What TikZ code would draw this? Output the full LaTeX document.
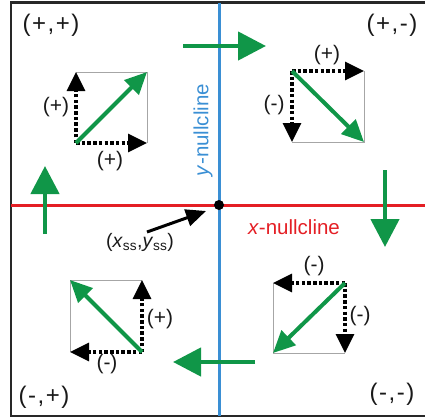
\documentclass[tikz,border=0pt]{standalone}
\usepackage{fontspec}
\setmainfont{Liberation Sans}
\usetikzlibrary{arrows.meta}
\definecolor{grn}{RGB}{16,150,72}
\definecolor{blu}{RGB}{58,143,212}
\definecolor{rd}{RGB}{228,30,36}
\definecolor{frm}{RGB}{40,40,40}
\newcommand{\gapk}{\kern1.5pt}
\tikzset{
  bigarrow/.style={grn, line width=4.5pt, -{Triangle[length=28pt,width=28pt]}},
  diagarrow/.style={grn, line width=4pt, -{Triangle[length=22pt,width=20pt]}},
  dasharrow/.style={black, line width=3.2pt, dash pattern=on 3.5pt off 2.2pt, -{Triangle[length=19pt,width=18pt]}},
  sqedge/.style={black!35, line width=0.9pt},
  smalllbl/.style={font=\fontsize{21}{21}\selectfont, inner sep=0pt, text=black!90},
  cornerlbl/.style={font=\fontsize{24}{24}\selectfont, inner sep=0pt, text=black!90},
  nclbl/.style={font=\fontsize{20.5}{20.5}\selectfont, inner sep=0pt}
}
\begin{document}
\begin{tikzpicture}[x=1pt,y=-1pt]
\useasboundingbox (0,0) rectangle (425,418);
% frame
\draw[frm, line width=2.5pt] (425,2.5) -- (11,2.5) -- (11,416) -- (425,416);
% nullclines
\coordinate (ytop) at (219,2.5);
\coordinate (ybot) at (219,416);
\coordinate (xl) at (11,205);
\coordinate (xr) at (425,205);
\draw[rd, line width=3pt] (xl) -- (xr);
\draw[blu, line width=3pt] (ytop) -- (ybot);
\node[circle, fill=black, inner sep=0pt, minimum size=10pt] (ss) at (219,205) {};
\node[nclbl, text=blu, rotate=90] (ylbl) at (203,130) {\textit{y}-nullcline};
\node[nclbl, text=rd] (xlbl) at (294,227) {\textit{x}-nullcline};
% steady state label
\node[font=\fontsize{19.5}{19.5}\selectfont, inner sep=0pt, text=black!90] (sslbl) at (140,242) {(\textit{x}\textsubscript{ss},\textit{y}\textsubscript{ss})};
\coordinate (ssa) at (147,232);
\coordinate (ssb) at (206,211);
\draw[black, line width=3pt, -{Triangle[length=20pt,width=17pt]}] (ssa) -- (ssb);
% corner labels
\node[cornerlbl] (pp) at (51,25) {(\gapk+\gapk,\gapk+\gapk)};
\node[cornerlbl] (pm) at (392,25) {(\gapk+\gapk,\gapk-\gapk)};
\node[cornerlbl] (mp) at (44,397) {(\gapk-\gapk,\gapk+\gapk)};
\node[cornerlbl] (mm) at (392,394) {(\gapk-\gapk,\gapk-\gapk)};
% big green flow arrows
\coordinate (t1) at (183,46); \coordinate (t2) at (266,46);
\draw[bigarrow] (t1) -- (t2);
\coordinate (r1) at (385,170); \coordinate (r2) at (385,247);
\draw[bigarrow] (r1) -- (r2);
\coordinate (b1) at (255,362); \coordinate (b2) at (173,362);
\draw[bigarrow] (b1) -- (b2);
\coordinate (l1) at (45,234); \coordinate (l2) at (45,166);
\draw[bigarrow] (l1) -- (l2);
% quadrant (+,+)
\coordinate (a1) at (76,143); \coordinate (a2) at (147,143);
\coordinate (a3) at (147,72); \coordinate (a4) at (76,72);
\draw[sqedge] (a4) -- (a3) -- (a2);
\draw[dasharrow] (a1) -- (a4);
\draw[dasharrow] (a1) -- (a2);
\draw[diagarrow] (a1) -- (a3);
\node[smalllbl] (a5) at (56,107) {(+)};
\node[smalllbl] (a6) at (110,161) {(+)};
% quadrant (+,-)
\coordinate (b1q) at (292,71); \coordinate (b2q) at (364,71);
\coordinate (b3q) at (364,142); \coordinate (b4q) at (292,142);
\draw[sqedge] (b2q) -- (b3q) -- (b4q);
\draw[dasharrow] (b1q) -- (b2q);
\draw[dasharrow] (b1q) -- (b4q);
\draw[diagarrow] (b1q) -- (b3q);
\node[smalllbl] (b5q) at (327,55) {(+)};
\node[smalllbl] (b6q) at (274,105) {(-)};
% quadrant (-,+)
\coordinate (c1) at (142,352); \coordinate (c2) at (70,352);
\coordinate (c3) at (70,280); \coordinate (c4) at (142,280);
\draw[sqedge] (c2) -- (c3) -- (c4);
\draw[dasharrow] (c1) -- (c4);
\draw[dasharrow] (c1) -- (c2);
\draw[diagarrow] (c1) -- (c3);
\node[smalllbl] (c5) at (160,319) {(+)};
\node[smalllbl] (c6) at (107,364) {(-)};
% quadrant (-,-)
\coordinate (d1) at (345,283); \coordinate (d2) at (273,283);
\coordinate (d3) at (273,353); \coordinate (d4) at (345,353);
\draw[sqedge] (d2) -- (d3) -- (d4);
\draw[dasharrow] (d1) -- (d2);
\draw[dasharrow] (d1) -- (d4);
\draw[diagarrow] (d1) -- (d3);
\node[smalllbl] (d5) at (314,266) {(-)};
\node[smalllbl] (d6) at (360,316) {(-)};
\end{tikzpicture}
\end{document}
